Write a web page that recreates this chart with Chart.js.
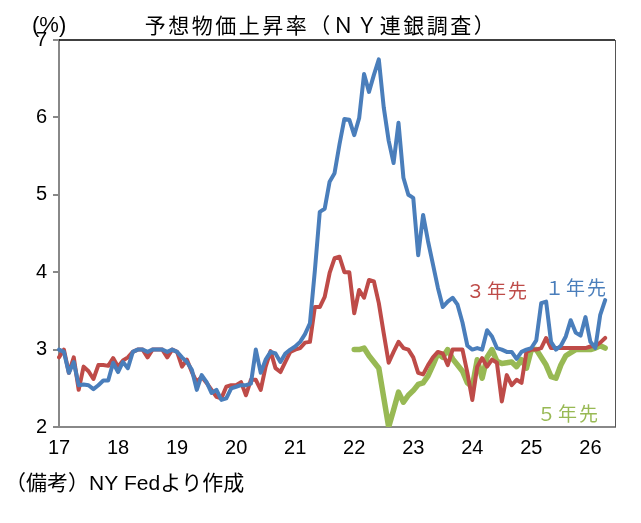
<!DOCTYPE html>
<html>
<head>
<meta charset="utf-8">
<script src="https://cdn.jsdelivr.net/npm/chart.js@4"></script>
<style>
  html, body { margin: 0; padding: 0; background: #fff; }
  #wrap { width: 641px; height: 523px; }
</style>
</head>
<body>
<div id="wrap"><canvas id="expChart" width="641" height="523"></canvas></div>
<script>
// year tick labels (Jan of each year)
const years = ["17", "18", "19", "20", "21", "22", "23", "24", "25", "26"];
const monthsShown = 114; // Jan 2017 .. Jun 2026 on the axis

// 1-year ahead (median, %), Jan 2017 ..
const oneYear = [
  3.0, 2.97, 2.7, 2.84, 2.54, 2.55, 2.54, 2.49, 2.54, 2.6, 2.6, 2.83,
  2.71, 2.84, 2.76, 2.97, 3.0, 3.0, 2.97, 3.0, 3.0, 3.0, 2.97, 3.0,
  2.97, 2.9, 2.84, 2.74, 2.48, 2.67, 2.58, 2.44, 2.48, 2.35, 2.37, 2.5,
  2.52, 2.54, 2.54, 2.56, 3.0, 2.7, 2.87, 2.97, 2.95, 2.84, 2.95, 3.0,
  3.04, 3.1, 3.2, 3.34, 4.02, 4.78, 4.82, 5.17, 5.28, 5.65, 5.98, 5.97,
  5.77, 5.99, 6.56, 6.33, 6.55, 6.75, 6.13, 5.7, 5.41, 5.93, 5.22, 5.0,
  4.96, 4.22, 4.74, 4.4, 4.1, 3.8, 3.55, 3.62, 3.67, 3.58, 3.35, 3.05,
  3.0, 3.02, 3.0, 3.25, 3.17, 3.02, 3.0, 2.97, 2.97, 2.88, 2.97, 3.0,
  3.02, 3.12, 3.6, 3.62, 3.1, 3.0, 3.05, 3.17, 3.38, 3.22, 3.18, 3.42,
  3.1, 3.02, 3.45, 3.64
];

// 3-year ahead
const threeYear = [
  2.9, 3.0, 2.7, 2.9, 2.48, 2.78, 2.72, 2.62, 2.8, 2.8, 2.79, 2.89,
  2.78, 2.86, 2.9, 2.97, 3.0, 3.0, 2.9, 3.0, 3.0, 3.0, 2.9, 3.0,
  2.97, 2.78, 2.87, 2.71, 2.58, 2.65, 2.57, 2.48, 2.39, 2.37, 2.52, 2.54,
  2.54, 2.58, 2.41, 2.61, 2.61, 2.48, 2.78, 2.98, 2.76, 2.71, 2.84, 2.97,
  3.0, 3.02, 3.09, 3.1, 3.55, 3.55, 3.68, 3.99, 4.18, 4.2, 4.0, 4.0,
  3.47, 3.77, 3.67, 3.9, 3.88, 3.6, 3.21, 2.83, 2.97, 3.1, 3.02, 3.0,
  2.9, 2.7, 2.68, 2.8, 2.9, 2.97, 2.95, 2.8, 3.0, 3.0, 3.0, 2.7,
  2.35, 2.78, 2.89, 2.78, 2.87, 2.83, 2.33, 2.67, 2.54, 2.61, 2.57, 2.97,
  3.0, 3.0, 3.02, 3.15, 3.02, 3.02, 3.02, 3.02, 3.02, 3.02, 3.02, 3.02,
  3.04, 3.05, 3.09, 3.15
];

// 5-year ahead (series starts Jan 2022)
const fiveYear = [
  null, null, null, null, null, null, null, null, null, null, null, null,
  null, null, null, null, null, null, null, null, null, null, null, null,
  null, null, null, null, null, null, null, null, null, null, null, null,
  null, null, null, null, null, null, null, null, null, null, null, null,
  null, null, null, null, null, null, null, null, null, null, null, null,
  3.0, 3.0, 3.02, 2.92, 2.84, 2.76, 2.38, 2.0, 2.22, 2.45, 2.32, 2.41,
  2.47, 2.55, 2.57, 2.66, 2.8, 2.95, 2.9, 3.0, 2.88, 2.8, 2.72, 2.57,
  2.52, 2.87, 2.63, 2.9, 3.0, 2.85, 2.82, 2.83, 2.84, 2.78, 2.87, 2.76,
  3.0, 3.0, 2.9, 2.8, 2.65, 2.63, 2.8, 2.92, 2.96, 3.0, 3.0, 3.0,
  3.0, 3.02, 3.05, 3.02
];

const labels = [];
for (let i = 0; i < monthsShown; i++) {
  labels.push(years[Math.floor(i / 12)] + "/" + ((i % 12) + 1));
}

const BLUE = "#4a7ebb";
const RED = "#be4b48";
const GREEN = "#98b954";
const numFont = '"Liberation Sans", sans-serif';
const jpFont = '"Noto Sans CJK JP", sans-serif';

// texts around the plot
const decorations = {
  id: "decorations",
  afterDraw(chart) {
    const ctx = chart.ctx;
    const a = chart.chartArea;
    ctx.save();
    // frame top / right
    ctx.strokeStyle = "#000";
    ctx.lineWidth = 1.5;
    ctx.beginPath();
    ctx.moveTo(a.left, a.top);
    ctx.lineTo(a.right, a.top);
    ctx.stroke();
    ctx.strokeStyle = "#555";
    ctx.lineWidth = 1;
    ctx.beginPath();
    ctx.moveTo(a.right + 0.5, a.top);
    ctx.lineTo(a.right + 0.5, a.bottom);
    ctx.stroke();

    ctx.textBaseline = "middle";
    ctx.fillStyle = "#000";
    ctx.font = "21px " + jpFont;
    ctx.textAlign = "center";
    ctx.letterSpacing = "2.5px";
    ctx.fillText("予想物価上昇率（ＮＹ連銀調査）", 321, 25);
    ctx.letterSpacing = "0px";

    ctx.textAlign = "left";
    ctx.font = "22px " + numFont;
    ctx.fillText("(%)", 32, 26);

    ctx.font = "21px " + numFont + ", " + jpFont;
    ctx.fillText("（備考）NY Fedより作成", 5, 484);

    ctx.font = "19px " + jpFont;
    ctx.letterSpacing = "2px";
    ctx.fillStyle = RED;
    ctx.fillText("３年先", 466, 291);
    ctx.fillStyle = BLUE;
    ctx.fillText("１年先", 545, 288);
    ctx.fillStyle = GREEN;
    ctx.fillText("５年先", 537, 414);
    ctx.restore();
  }
};

const ctx = document.getElementById("expChart").getContext("2d");
new Chart(ctx, {
  type: "line",
  data: {
    labels: labels,
    datasets: [
      { label: "1年先", data: oneYear, borderColor: BLUE, borderWidth: 4 },
      { label: "3年先", data: threeYear, borderColor: RED, borderWidth: 4 },
      { label: "5年先", data: fiveYear, borderColor: GREEN, borderWidth: 5.5 }
    ]
  },
  options: {
    responsive: false,
    animation: false,
    events: [],
    elements: {
      point: { radius: 0 },
      line: { tension: 0, borderJoinStyle: "round", borderCapStyle: "round" }
    },
    layout: { padding: { top: 40, right: 26, bottom: 56, left: 0 } },
    plugins: { legend: { display: false }, tooltip: { enabled: false } },
    scales: {
      x: {
        type: "category",
        offset: false,
        afterFit: (s) => { s.height = 40; },
        grid: { drawOnChartArea: false, drawTicks: false },
        border: { color: "#888", width: 2 },
        ticks: {
          autoSkip: false,
          maxRotation: 0,
          padding: 9,
          color: "#000",
          font: { family: numFont, size: 20 },
          callback: (v, i) => (i % 12 === 0 ? years[i / 12] : null)
        }
      },
      y: {
        min: 2,
        max: 7,
        afterFit: (s) => { s.width = 59; },
        grid: { drawOnChartArea: false, tickLength: 6, color: "#888", lineWidth: 2 },
        border: { color: "#888", width: 2 },
        ticks: {
          stepSize: 1,
          padding: 6,
          color: "#000",
          font: { family: numFont, size: 20 }
        }
      }
    }
  },
  plugins: [decorations]
});
</script>
</body>
</html>
